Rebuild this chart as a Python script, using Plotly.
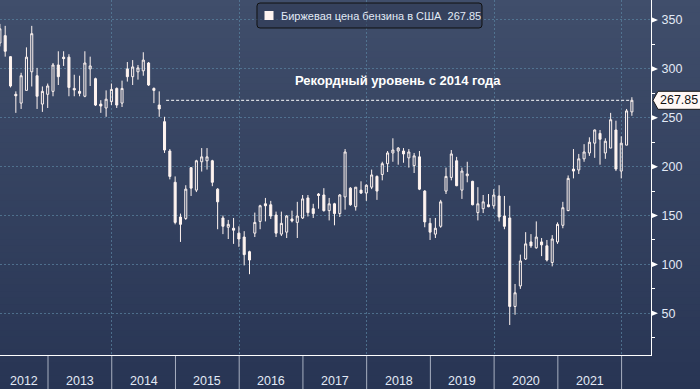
import plotly.graph_objects as go

# ---------------- data (monthly candles, US gasoline futures, cents/gal) ----------------
months = [
    "2012-03", "2012-04", "2012-05", "2012-06", "2012-07", "2012-08", "2012-09", "2012-10", "2012-11", "2012-12",
    "2013-01", "2013-02", "2013-03", "2013-04", "2013-05", "2013-06", "2013-07", "2013-08", "2013-09", "2013-10", "2013-11", "2013-12",
    "2014-01", "2014-02", "2014-03", "2014-04", "2014-05", "2014-06", "2014-07", "2014-08", "2014-09", "2014-10", "2014-11", "2014-12",
    "2015-01", "2015-02", "2015-03", "2015-04", "2015-05", "2015-06", "2015-07", "2015-08", "2015-09", "2015-10", "2015-11", "2015-12",
    "2016-01", "2016-02", "2016-03", "2016-04", "2016-05", "2016-06", "2016-07", "2016-08", "2016-09", "2016-10", "2016-11", "2016-12",
    "2017-01", "2017-02", "2017-03", "2017-04", "2017-05", "2017-06", "2017-07", "2017-08", "2017-09", "2017-10", "2017-11", "2017-12",
    "2018-01", "2018-02", "2018-03", "2018-04", "2018-05", "2018-06", "2018-07", "2018-08", "2018-09", "2018-10", "2018-11", "2018-12",
    "2019-01", "2019-02", "2019-03", "2019-04", "2019-05", "2019-06", "2019-07", "2019-08", "2019-09", "2019-10", "2019-11", "2019-12",
    "2020-01", "2020-02", "2020-03", "2020-04", "2020-05", "2020-06", "2020-07", "2020-08", "2020-09", "2020-10", "2020-11", "2020-12",
    "2021-01", "2021-02", "2021-03", "2021-04", "2021-05", "2021-06", "2021-07", "2021-08", "2021-09", "2021-10", "2021-11", "2021-12",
    "2022-01", "2022-02",
]
open_ = [
    326.5, 334, 312.5, 274, 265, 278, 297, 293, 264, 274,
    277, 304, 312, 312, 280, 277, 272, 300, 290, 264, 260, 266.5,
    280, 265, 300, 292, 297, 298, 306, 280, 263, 246, 216, 184,
    148.5, 147, 199, 176, 205, 206, 206, 177, 147.5, 138, 137, 132,
    128, 113, 132, 144, 162, 161, 150.5, 131, 133, 146.5, 143, 147.5,
    168, 157, 172, 171, 155, 162, 152, 169, 178, 159, 176, 173,
    179, 190, 192, 203, 214, 216, 216, 209, 201, 210, 175, 142,
    131, 139, 175, 189, 206, 176, 190.7, 185, 153, 157, 161, 160,
    170, 149.5, 147.5, 57, 78, 105.5, 123, 117, 123, 119, 102, 123,
    140, 155, 197.5, 196.6, 208, 214, 224, 234, 214, 219, 237.5, 195.5,
    222, 256,
]
high = [
    346, 344, 313, 277, 296, 322, 344, 301, 282, 285,
    306, 318, 318, 315, 294, 293, 318, 312.5, 291, 268, 278, 285,
    281, 288, 307, 309, 304, 317, 307, 281, 277, 251, 218, 190,
    152, 181, 199, 207, 219, 219, 207, 178, 150, 145.5, 147.5, 139,
    134, 114, 153, 161, 168, 165, 154, 154, 150.5, 155, 164, 171,
    171, 162, 173, 178, 168, 163, 172, 218, 179, 179, 185, 182,
    197, 191, 205, 216, 229, 220, 219, 218, 214, 216, 176, 147.5,
    147.5, 166, 199, 217, 210, 199, 205, 185.5, 179, 171, 172, 177,
    181, 170, 160, 80, 110, 133, 131, 144, 127, 125, 130, 143,
    164, 191, 218, 213, 223, 230, 238, 237.5, 229, 255, 247, 231,
    259, 271,
]
low = [
    323, 312.5, 281, 255, 259, 278, 282, 259, 256, 260,
    272, 283.5, 303, 272, 272, 272, 271, 282.5, 262, 255, 251, 263,
    260, 261, 287, 283.5, 289, 293, 282.5, 265, 251, 214, 187, 141,
    123, 145.5, 170, 174, 195, 197, 180, 136, 131, 126, 121, 118,
    99, 90, 128, 136, 144, 146.5, 128, 129, 127, 143, 127, 146.5,
    149, 147.5, 157, 154, 145, 140, 148.5, 156, 160, 155, 172, 165,
    177, 166, 186, 194.5, 205, 202, 204, 199, 193.5, 176, 138, 125,
    127, 137.5, 172, 186, 180, 167, 184, 160.5, 145, 152.5, 158.5, 157,
    144, 136, 38, 48.5, 75, 104.5, 117, 116, 108.5, 103, 98, 121,
    137, 154.5, 188, 192.5, 205, 211, 209, 202, 208, 219, 195.5, 188,
    222, 252,
]
close = [
    341, 318, 282.5, 272.5, 293, 312, 336, 272, 277, 282.5,
    304, 292, 310.5, 281, 278.5, 275, 306, 303, 263, 262, 269, 279,
    263, 280, 292, 302, 301, 309, 283.5, 278, 259, 217, 190, 143,
    141, 177, 178, 206, 210, 210, 184, 164, 139, 141, 135, 126,
    110, 104.5, 143, 160, 160, 149.5, 132, 142, 149.5, 144.5, 149.5, 167,
    153, 152, 170.5, 155, 162, 152, 171, 215, 161, 179, 173, 181,
    191.5, 175, 203, 214, 217, 219, 213, 215, 211, 177, 143.5, 133,
    137, 164, 190, 213, 180.5, 195.5, 192.5, 161, 162, 164, 159, 171,
    148.5, 139, 57, 71, 103.5, 121, 119, 128, 120, 104.5, 126, 141,
    158, 188, 195.5, 208, 215, 225, 237.5, 228, 226, 248, 197.5, 224,
    257, 267.85,
]
years = list(range(2012, 2023))
labelled_years = list(range(2012, 2022))
y_ticks = [50, 100, 150, 200, 250, 300, 350]
series_name = "Биржевая цена бензина в США"
last_value = 267.85
note_text = "Рекордный уровень с 2014 года"
record_from = "2014-10"

# ---------------- geometry helpers ----------------
W, H = 700, 389
ML, MR, MT, MB = 0, 49, 0, 34
PW, PH = W - ML - MR, H - MT - MB
X_RANGE = [2.02, 124.6]
Y_RANGE = [7.35, 370.45]
UPP = (Y_RANGE[1] - Y_RANGE[0]) / PH  # value units per pixel


def mindex(s):
    y, m = s.split("-")
    return (int(y) - 2012) * 12 + int(m) - 1


def xp(px):
    return px / PW


def yp(py):
    return 1 - py / PH


def sep(year):
    return (year - 2012) * 12 - 0.94


xs = [mindex(m) for m in months]

CANDLE = "#FFF4F0"
TXT = "#E2EAF6"
GRID = "rgba(88,128,158,0.75)"
FONT = "Liberation Sans, Arial, sans-serif"

fig = go.Figure()
fig.add_trace(go.Candlestick(
    x=xs, open=open_, high=high, low=low, close=close,
    increasing=dict(line=dict(color=CANDLE, width=1), fillcolor="rgba(0,0,0,0)"),
    decreasing=dict(line=dict(color=CANDLE, width=1), fillcolor=CANDLE),
    whiskerwidth=0, hoverinfo="skip", showlegend=False,
))

shapes = []
# background gradient
N = 60
top_c = (64, 78, 107)
bot_c = (40, 53, 84)
for i in range(N):
    py0 = i * H / N
    py1 = (i + 1) * H / N
    t = (i + 0.5) / N
    c = tuple(round(top_c[k] + (bot_c[k] - top_c[k]) * t) for k in range(3))
    shapes.append(dict(type="rect", xref="paper", yref="paper", layer="below",
                       x0=xp(-2), x1=xp(W + 2), y0=yp(py1 + 0.5), y1=yp(py0 - 0.5),
                       line=dict(width=0), fillcolor="rgb(%d,%d,%d)" % c))

# year separators in bottom band
for yr in years[1:]:
    shapes.append(dict(type="line", xref="x", yref="paper", x0=sep(yr), x1=sep(yr),
                       y0=yp(PH + 1), y1=yp(H), line=dict(color="rgba(190,198,212,0.85)", width=1)))

# record dashed line
shapes.append(dict(type="line", xref="x", yref="y",
                   x0=mindex(record_from) + 0.3, x1=xs[-1] - 0.3, y0=last_value, y1=last_value,
                   line=dict(color="white", width=1, dash="3px,2px")))

# major tick triangles
d = 2.8 * UPP
for v in y_ticks:
    shapes.append(dict(type="path", xref="paper", yref="y",
                       path="M %f,%f L %f,%f L %f,%f Z" % (xp(651.5), v + d, xp(651.5), v - d, xp(658), v),
                       fillcolor="white", line=dict(width=0)))

# last value tag
h = 9 * UPP
shapes.append(dict(type="path", xref="paper", yref="y",
                   path="M %f,%f L %f,%f L %f,%f L %f,%f L %f,%f Z" % (
                       xp(653), last_value, xp(658), last_value + h, xp(703), last_value + h,
                       xp(703), last_value - h, xp(658), last_value - h),
                   fillcolor="#FFF8F5", line=dict(color="#1a1a1a", width=1)))

# legend box (rounded)
lx0, lx1, ly0, ly1, r = 257, 482, 3, 28, 3
shapes.append(dict(type="path", xref="paper", yref="paper",
                   path=("M %f,%f L %f,%f Q %f,%f %f,%f L %f,%f Q %f,%f %f,%f "
                         "L %f,%f Q %f,%f %f,%f L %f,%f Q %f,%f %f,%f Z") % (
                       xp(lx0 + r), yp(ly0), xp(lx1 - r), yp(ly0), xp(lx1), yp(ly0), xp(lx1), yp(ly0 + r),
                       xp(lx1), yp(ly1 - r), xp(lx1), yp(ly1), xp(lx1 - r), yp(ly1),
                       xp(lx0 + r), yp(ly1), xp(lx0), yp(ly1), xp(lx0), yp(ly1 - r),
                       xp(lx0), yp(ly0 + r), xp(lx0), yp(ly0), xp(lx0 + r), yp(ly0)),
                   fillcolor="rgba(45,56,82,0.55)", line=dict(color="#111111", width=1)))
shapes.append(dict(type="rect", xref="paper", yref="paper",
                   x0=xp(264.5), x1=xp(273.5), y0=yp(20), y1=yp(11),
                   fillcolor=CANDLE, line=dict(width=0)))

annotations = []
annotations.append(dict(xref="paper", yref="paper", x=xp(279), y=yp(16), xanchor="left", yanchor="middle",
                        text="%s\u00a0 %.2f" % (series_name, last_value), showarrow=False,
                        font=dict(family=FONT, size=11, color=TXT)))
annotations.append(dict(xref="paper", yref="paper", x=xp(397.5), y=yp(80), xanchor="center", yanchor="middle",
                        text="<b>%s</b>" % note_text, showarrow=False,
                        font=dict(family=FONT, size=13, color="white")))
annotations.append(dict(xref="paper", yref="y", x=xp(678.5), y=last_value, xanchor="center", yanchor="middle",
                        text="%.2f" % last_value, showarrow=False,
                        font=dict(family=FONT, size=12.5, color="#111111")))
for yr in labelled_years:
    a = max(sep(yr), X_RANGE[0])
    b = min(sep(yr + 1), X_RANGE[1])
    annotations.append(dict(xref="x", yref="paper", x=(a + b) / 2, y=yp(381), xanchor="center", yanchor="middle",
                            text=str(yr), showarrow=False,
                            font=dict(family=FONT, size=12.5, color=TXT)))

fig.update_layout(
    width=W, height=H,
    margin=dict(l=ML, r=MR, t=MT, b=MB, pad=0),
    paper_bgcolor="rgb(52,65,95)",
    plot_bgcolor="rgba(0,0,0,0)",
    showlegend=False,
    hovermode=False,
    boxgap=0.45,
    shapes=shapes,
    annotations=annotations,
    xaxis=dict(
        range=X_RANGE, rangeslider=dict(visible=False), fixedrange=True,
        tickmode="array", tickvals=[sep(y) for y in years if (y - 2012) % 2 == 0],
        showticklabels=False, ticks="",
        showgrid=True, gridcolor=GRID, griddash="2px,2px", gridwidth=1,
        showline=True, linecolor="white", linewidth=1, zeroline=False,
    ),
    yaxis=dict(
        range=Y_RANGE, side="right", fixedrange=True,
        tickmode="array", tickvals=y_ticks, ticktext=[str(v) for v in y_ticks],
        ticks="outside", ticklen=7, tickcolor="rgba(0,0,0,0)",
        tickfont=dict(family=FONT, size=12.5, color=TXT),
        showgrid=True, gridcolor=GRID, griddash="2px,2px", gridwidth=1,
        showline=True, linecolor="white", linewidth=1, zeroline=False,
        minor=dict(tickmode="linear", tick0=0, dtick=25, ticks="outside", ticklen=3,
                   tickcolor="white", tickwidth=1, showgrid=False),
    ),
)

fig.write_html(
    "out.html",
    config={"displayModeBar": False, "staticPlot": True},
    post_script="document.body.style.margin='0';document.body.style.overflow='hidden';",
)
